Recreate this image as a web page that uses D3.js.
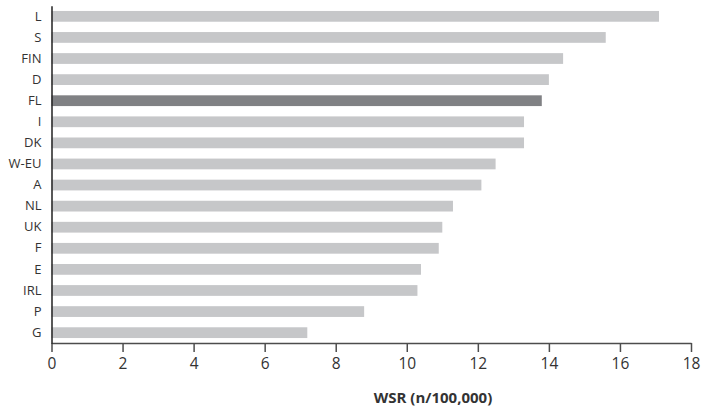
<!DOCTYPE html>
<html>
<head>
<meta charset="utf-8">
<script src="https://cdn.jsdelivr.net/npm/d3@7"></script>
<style>
  html, body { margin: 0; padding: 0; background: #fff; }
  svg { display: block; font-family: "Open Sans", "Noto Sans", sans-serif; }
</style>
</head>
<body>
<svg id="chart" width="702" height="408"></svg>
<script>
// Country codes, top to bottom
const countries = ["L", "S", "FIN", "D", "FL", "I", "DK", "W-EU", "A", "NL", "UK", "F", "E", "IRL", "P", "G"];
// WSR per 100,000
const rates = [17.1, 15.6, 14.4, 14.0, 13.8, 13.3, 13.3, 12.5, 12.1, 11.3, 11.0, 10.9, 10.4, 10.3, 8.8, 7.2];
const highlighted = ["FL"];
const xTicks = [0, 2, 4, 6, 8, 10, 12, 14, 16, 18];
const xTitle = "WSR (n/100,000)";

const data = countries.map((c, i) => ({ country: c, rate: rates[i] }));

const svg = d3.select("#chart");

const x = d3.scaleLinear().domain([0, 18]).range([51.5, 691]);
const y = d3.scaleBand()
  .domain(countries)
  .range([5.8, 343.2])
  .paddingInner(0.49)
  .paddingOuter(0.245);

// Bars
svg.append("g")
  .selectAll("rect")
  .data(data)
  .join("rect")
  .attr("x", x(0))
  .attr("y", d => y(d.country))
  .attr("width", d => x(d.rate) - x(0))
  .attr("height", y.bandwidth())
  .attr("fill", d => highlighted.includes(d.country) ? "#808184" : "#c6c7c9");

// Bottom axis
const xAxis = svg.append("g")
  .attr("transform", "translate(0,343)")
  .call(d3.axisBottom(x).tickValues(xTicks).tickSize(9).tickSizeOuter(0).tickPadding(6));
xAxis.select(".domain").attr("stroke", "#4d4d4d").attr("stroke-width", 1.5);
xAxis.selectAll(".tick line").attr("stroke", "#4d4d4d").attr("stroke-width", 1.5);
xAxis.selectAll(".tick text")
  .attr("font-size", 15.5)
  .attr("fill", "#333")
  .style("font-family", "'Open Sans', 'Noto Sans', sans-serif");

// Left axis
const yAxis = svg.append("g")
  .attr("transform", `translate(${x(0)},0)`)
  .call(d3.axisLeft(y).tickSize(0).tickPadding(10));
yAxis.select(".domain").attr("stroke", "#222").attr("stroke-width", 1.5);
yAxis.selectAll(".tick text")
  .attr("font-size", 13)
  .attr("fill", "#333")
  .style("font-family", "'Open Sans', 'Noto Sans', sans-serif");

// Axis title
svg.append("text")
  .attr("x", 433)
  .attr("y", 403)
  .attr("text-anchor", "middle")
  .attr("font-size", 15)
  .attr("font-weight", "bold")
  .attr("fill", "#333")
  .text(xTitle);
</script>
</body>
</html>
